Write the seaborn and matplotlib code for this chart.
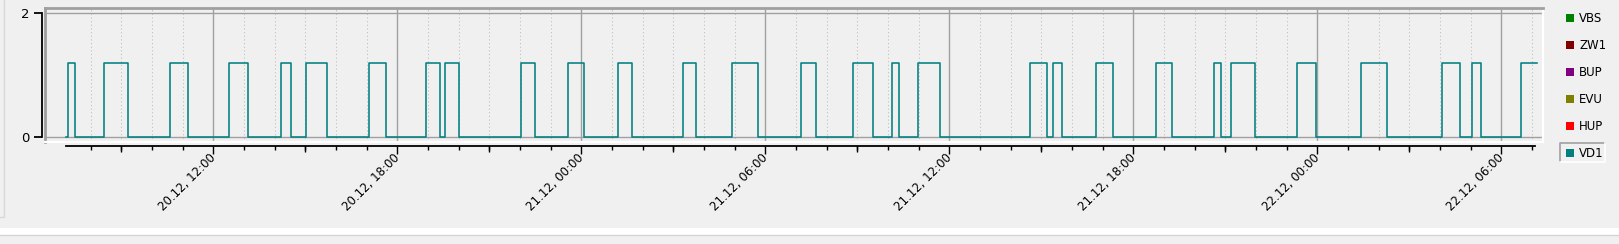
import matplotlib
matplotlib.use("Agg")
import matplotlib.pyplot as plt
import matplotlib.dates as mdates
from matplotlib.ticker import FixedLocator
from matplotlib.patches import Rectangle
from matplotlib.lines import Line2D
import seaborn as sns
import pandas as pd

# ---------------- data ----------------
switch_times = [
    "2023-12-20 07:12", "2023-12-20 07:16", "2023-12-20 07:30", "2023-12-20 08:27", "2023-12-20 09:14",
    "2023-12-20 10:36", "2023-12-20 11:11", "2023-12-20 12:31", "2023-12-20 13:07", "2023-12-20 14:13",
    "2023-12-20 14:32", "2023-12-20 15:02", "2023-12-20 15:43", "2023-12-20 17:05", "2023-12-20 17:37",
    "2023-12-20 18:57", "2023-12-20 19:24", "2023-12-20 19:34", "2023-12-20 20:00", "2023-12-20 22:01",
    "2023-12-20 22:30", "2023-12-20 23:34", "2023-12-21 00:06", "2023-12-21 01:12", "2023-12-21 01:40",
    "2023-12-21 03:18", "2023-12-21 03:45", "2023-12-21 04:55", "2023-12-21 05:45", "2023-12-21 07:09",
    "2023-12-21 07:40", "2023-12-21 08:52", "2023-12-21 09:31", "2023-12-21 10:08", "2023-12-21 10:22",
    "2023-12-21 10:59", "2023-12-21 11:42", "2023-12-21 14:38", "2023-12-21 15:10", "2023-12-21 15:22",
    "2023-12-21 15:41", "2023-12-21 16:46", "2023-12-21 17:20", "2023-12-21 18:44", "2023-12-21 19:16",
    "2023-12-21 20:37", "2023-12-21 20:52", "2023-12-21 21:10", "2023-12-21 21:58", "2023-12-21 23:20",
    "2023-12-21 23:58", "2023-12-22 01:26", "2023-12-22 02:17", "2023-12-22 04:03", "2023-12-22 04:38",
    "2023-12-22 05:03", "2023-12-22 05:20", "2023-12-22 06:38", "2023-12-22 07:09",
]
vd1_states = [
    0, 1.2, 0, 1.2, 0,
    1.2, 0, 1.2, 0, 1.2,
    0, 1.2, 0, 1.2, 0,
    1.2, 0, 1.2, 0, 1.2,
    0, 1.2, 0, 1.2, 0,
    1.2, 0, 1.2, 0, 1.2,
    0, 1.2, 0, 1.2, 0,
    1.2, 0, 1.2, 0, 1.2,
    0, 1.2, 0, 1.2, 0,
    1.2, 0, 1.2, 0, 1.2,
    0, 1.2, 0, 1.2, 0,
    1.2, 0, 1.2, 1.2,
]
legend_labels = ["VBS", "ZW1", "BUP", "EVU", "HUP", "VD1"]
legend_colors = ["#008000", "#800000", "#800080", "#808000", "#ff0000", "#008080"]
y_ticks = [0, 2]

df = pd.DataFrame({"time": pd.to_datetime(switch_times), "VD1": vd1_states})

# ---------------- figure ----------------
W, H = 1619, 244
BG = "#f0f0f0"
fig = plt.figure(figsize=(W / 100, H / 100), dpi=100, facecolor=BG)
plt.rcParams["font.family"] = ["DejaVu Sans"]


def px_rect(x0, y0, x1, y1):
    return [x0 / W, 1 - y1 / H, (x1 - x0) / W, (y1 - y0) / H]


t0 = pd.Timestamp("2023-12-20 00:00")
def hrs(h):
    return mdates.date2num(t0 + pd.Timedelta(hours=h))

xmin, xmax = hrs(6.512), hrs(55.355)
hour_locs = [hrs(h) for h in range(8, 56)]
major_locs = [hrs(h) for h in range(12, 56, 6)]
mid_locs = [hrs(h) for h in range(9, 56, 6)]

# main plot area
ax = fig.add_axes(px_rect(45, 8, 1543, 142))
ax.set_facecolor(BG)
sns.lineplot(data=df, x="time", y="VD1", ax=ax, drawstyle="steps-post",
             color="#008080", linewidth=1.15, estimator=None, zorder=5)
ax.set_xlim(xmin, xmax)
ax.set_ylim(-4.7 / 62, 2 + 5.3 / 62)
ax.xaxis.set_major_locator(FixedLocator(major_locs))
ax.xaxis.set_minor_locator(FixedLocator(hour_locs))
ax.set_yticks(y_ticks)
ax.grid(which="major", axis="x", color="#a0a0a0", linewidth=1.0, linestyle="-")
ax.grid(which="minor", axis="x", color="#bdbdbd", linewidth=0.75, linestyle=(0, (1, 2.5)))
ax.grid(which="major", axis="y", color="#a0a0a0", linewidth=1.0, linestyle="-")
ax.tick_params(which="both", length=0, labelbottom=False, labelleft=False)
ax.set_xlabel("")
ax.set_ylabel("")
for s in ["top", "left"]:
    ax.spines[s].set_color("#a0a0a0")
    ax.spines[s].set_linewidth(2.0)
for s in ["bottom", "right"]:
    ax.spines[s].set_color("white")
    ax.spines[s].set_linewidth(1.6)
ax.set_axisbelow(True)

# left value axis
ay = fig.add_axes(px_rect(42.3, 8, 43.3, 142))
ay.set_ylim(ax.get_ylim())
ay.patch.set_visible(False)
for s in ["top", "right", "bottom"]:
    ay.spines[s].set_visible(False)
ay.spines["left"].set_bounds(0, 2)
ay.spines["left"].set_color("black")
ay.spines["left"].set_linewidth(1.3)
ay.set_xticks([])
ay.set_yticks(y_ticks)
ay.set_yticklabels([str(v) for v in y_ticks])
ay.tick_params(axis="y", length=6.0, width=1.3, pad=3.0, labelsize=9.5)

# bottom time axis
ax2 = fig.add_axes(px_rect(45, 144.7, 1543, 145.7))
ax2.set_xlim(xmin, xmax)
ax2.patch.set_visible(False)
for s in ["top", "right", "left"]:
    ax2.spines[s].set_visible(False)
ax2.spines["bottom"].set_bounds(hrs(7.2), hrs(55.1))
ax2.spines["bottom"].set_linewidth(1.3)
ax2.set_yticks([])
ax2.xaxis.set_major_locator(FixedLocator(major_locs))
ax2.xaxis.set_minor_locator(FixedLocator(hour_locs))
ax2.xaxis.set_major_formatter(mdates.DateFormatter("%d.%m, %H:%M"))
ax2.tick_params(axis="x", which="major", length=5.4, width=1.0, pad=2, labelsize=8.5)
ax2.tick_params(axis="x", which="minor", length=3.2, width=1.0)
for lab in ax2.get_xticklabels():
    lab.set_rotation(45)
    lab.set_ha("right")
    lab.set_va("center")
    lab.set_rotation_mode("anchor")

# medium (3-hourly) ticks
ax3 = fig.add_axes(px_rect(45, 144.7, 1543, 145.7))
ax3.set_xlim(xmin, xmax)
ax3.patch.set_visible(False)
for s in ax3.spines.values():
    s.set_visible(False)
ax3.set_yticks([])
ax3.xaxis.set_major_locator(FixedLocator(mid_locs))
ax3.tick_params(axis="x", which="major", length=4.3, width=1.0, labelbottom=False)

# legend (manual, Qt-like)
row_y = [18, 45, 72, 99, 126, 153]
for lab, col, yy in zip(legend_labels, legend_colors, row_y):
    fig.add_artist(Rectangle((1566 / W, 1 - (yy + 4) / H), 8 / W, 8 / H,
                             transform=fig.transFigure, facecolor=col, edgecolor="none"))
    fig.text(1579 / W, 1 - (yy + 0.5) / H, lab, fontsize=8.5, va="center", ha="left", color="black")
# selected VD1 frame
fx = lambda x: x / W
fy = lambda y: 1 - y / H
fig.add_artist(Line2D([fx(1560), fx(1560), fx(1605)], [fy(162), fy(142.5), fy(142.5)],
                      transform=fig.transFigure, color="#a0a0a0", linewidth=1.2))
fig.add_artist(Line2D([fx(1560), fx(1605), fx(1605)], [fy(162), fy(162), fy(142.5)],
                      transform=fig.transFigure, color="white", linewidth=1.2))

# surrounding panel decorations
fig.add_artist(Line2D([fx(3.5), fx(3.5), fx(0)], [fy(0), fy(217), fy(217)],
                      transform=fig.transFigure, color="#d8d8d8", linewidth=1.0))
fig.add_artist(Rectangle((0, fy(234.5)), 1, (234.5 - 228) / H, transform=fig.transFigure,
                         facecolor="white", edgecolor="none"))
fig.add_artist(Line2D([0, 1], [fy(235.2), fy(235.2)], transform=fig.transFigure,
                      color="#d4d4d4", linewidth=1.0))

fig.savefig("out.png", dpi=100, facecolor=BG)
